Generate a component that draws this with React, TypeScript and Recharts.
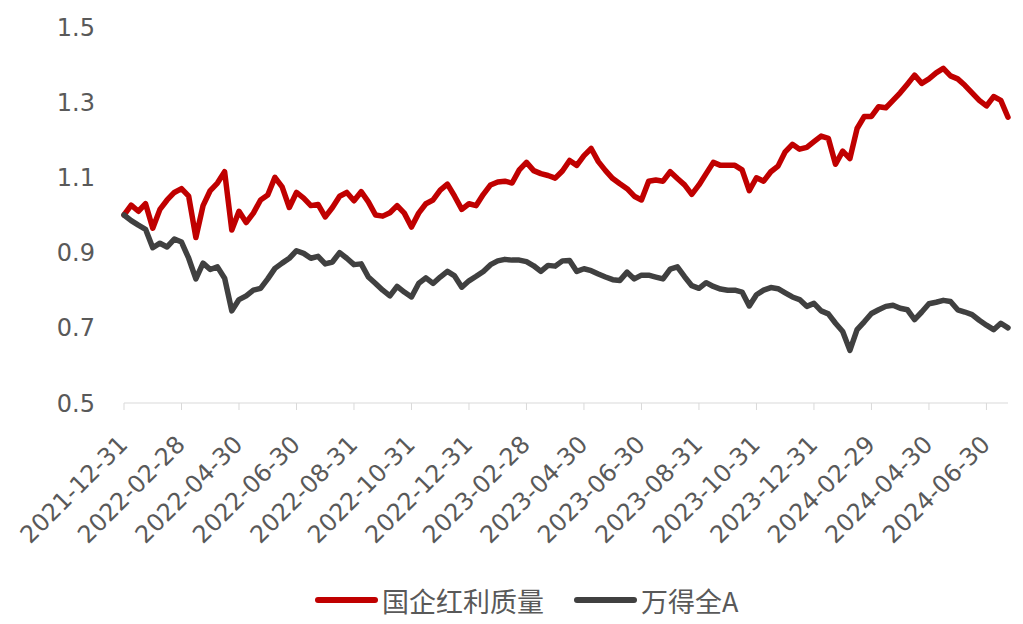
import { LineChart, Line, XAxis, YAxis, Legend } from 'recharts'

// 国企红利质量 vs 万得全A, normalised to 1 at 2021-12-31, one point per ~quarter month
const redValues = [
  1.0, 1.026, 1.01, 1.03, 0.965, 1.015, 1.04, 1.06, 1.07, 1.05, 0.94, 1.025, 1.065, 1.085, 1.115, 0.96,
  1.01, 0.98, 1.005, 1.04, 1.053, 1.1, 1.075, 1.02, 1.06, 1.045, 1.025, 1.028, 0.995, 1.02, 1.05, 1.06,
  1.038, 1.062, 1.035, 1.0, 0.997, 1.006, 1.025, 1.005, 0.968, 1.005, 1.03, 1.04, 1.066, 1.082, 1.05, 1.015,
  1.03, 1.025, 1.055, 1.08, 1.088, 1.09, 1.085, 1.12, 1.14, 1.118, 1.11, 1.105, 1.098, 1.117, 1.145, 1.132,
  1.158, 1.177, 1.142, 1.118, 1.097, 1.083, 1.07, 1.05, 1.04, 1.09, 1.093, 1.09, 1.115, 1.097, 1.08, 1.055,
  1.08, 1.11, 1.14, 1.132, 1.132, 1.132, 1.12, 1.065, 1.099, 1.09, 1.115, 1.13, 1.168, 1.188, 1.175, 1.18,
  1.195, 1.21, 1.204, 1.135, 1.17, 1.15, 1.23, 1.262, 1.262, 1.288, 1.285, 1.305, 1.325, 1.348, 1.372, 1.35,
  1.362, 1.378, 1.39, 1.37, 1.362, 1.345, 1.325, 1.305, 1.29, 1.315, 1.305, 1.26,
]

const grayValues = [
  1.0, 0.985, 0.973, 0.962, 0.913, 0.925, 0.915, 0.936, 0.928, 0.885, 0.83, 0.872, 0.855, 0.862, 0.832, 0.745,
  0.775, 0.785, 0.8, 0.805, 0.83, 0.858, 0.872, 0.885, 0.905, 0.898, 0.885, 0.89, 0.87, 0.875, 0.9, 0.885,
  0.868, 0.87, 0.835, 0.818, 0.8, 0.785, 0.81, 0.795, 0.782, 0.818, 0.833, 0.818, 0.835, 0.85, 0.838, 0.808,
  0.825, 0.837, 0.85, 0.868, 0.878, 0.882, 0.88, 0.88, 0.876, 0.865, 0.85, 0.866, 0.864, 0.878, 0.879, 0.85,
  0.857, 0.852, 0.843, 0.835, 0.828, 0.826, 0.848, 0.83, 0.84, 0.84, 0.835, 0.83, 0.856, 0.862, 0.836, 0.812,
  0.805, 0.82, 0.81, 0.803, 0.8, 0.8, 0.795, 0.758, 0.788, 0.8, 0.807, 0.804, 0.793, 0.782, 0.775, 0.757,
  0.765, 0.745, 0.737, 0.712, 0.69, 0.64, 0.695, 0.716, 0.738, 0.748, 0.757, 0.76, 0.752, 0.748, 0.722, 0.742,
  0.764, 0.768, 0.773, 0.77, 0.748, 0.742, 0.735, 0.72, 0.707, 0.695, 0.712, 0.7,
]

const tickLabels = [
  '2021-12-31', '2022-02-28', '2022-04-30', '2022-06-30', '2022-08-31', '2022-10-31',
  '2022-12-31', '2023-02-28', '2023-04-30', '2023-06-30', '2023-08-31', '2023-10-31',
  '2023-12-31', '2024-02-29', '2024-04-30', '2024-06-30',
]
const tickIndex = [0, 8, 16, 24, 32, 40, 48, 56, 64, 72, 80, 88, 96, 104, 112, 120]

const yTicks = [0.5, 0.7, 0.9, 1.1, 1.3, 1.5]

const seriesNames = ['国企红利质量', '万得全A']
const colors = ['#C00000', '#404040']

const data = redValues.map((v, i) => ({ i, red: v, gray: grayValues[i] }))

const font = "'DejaVu Sans', 'Noto Sans CJK SC', sans-serif"
const labelColor = '#595959'

const DateTick = (props: any) => {
  const { x, y, payload } = props
  const label = tickLabels[tickIndex.indexOf(payload.value)]
  const ax = x + 5
  const ay = y + 34
  return (
    <text
      x={ax}
      y={ay}
      textAnchor="end"
      fill={labelColor}
      fontSize={24}
      fontFamily={font}
      transform={`rotate(-45, ${ax}, ${ay})`}
    >
      {label}
    </text>
  )
}

const LegendContent = () => (
  <div
    style={{
      display: 'flex',
      alignItems: 'center',
      height: 40,
      paddingLeft: 315,
      fontFamily: "'Noto Sans CJK SC', sans-serif",
      fontSize: 27,
      color: labelColor,
    }}
  >
    {seriesNames.map((name, idx) => (
      <div key={name} style={{ display: 'flex', alignItems: 'center', marginRight: 30 }}>
        <span
          style={{
            display: 'inline-block',
            width: 63,
            height: 6,
            borderRadius: 3,
            background: colors[idx],
            marginRight: 4,
          }}
        />
        <span>{name}</span>
      </div>
    ))}
  </div>
)

export default function App() {
  return (
    <div style={{ position: 'absolute', left: 0, top: 0, background: '#fff' }}>
      <LineChart
        width={1023}
        height={624}
        data={data}
        margin={{ top: 27, right: 15, left: 0, bottom: 4 }}
      >
        <XAxis
          dataKey="i"
          type="number"
          domain={[0, 123]}
          ticks={tickIndex}
          interval={0}
          height={177}
          stroke="#D9D9D9"
          tickSize={7}
          tickMargin={2}
          tick={<DateTick />}
        />
        <YAxis
          type="number"
          domain={[0.5, 1.5]}
          ticks={yTicks}
          width={124}
          axisLine={false}
          tickLine={false}
          tickSize={6}
          tickMargin={23}
          tickFormatter={(v: number) => v.toFixed(1)}
          tick={{ fill: labelColor, fontSize: 24, fontFamily: font }}
        />
        <Legend verticalAlign="bottom" height={40} content={<LegendContent />} wrapperStyle={{ left: 0, width: 1023 }} />
        <Line
          dataKey="red"
          name={seriesNames[0]}
          stroke={colors[0]}
          strokeWidth={5.5}
          dot={false}
          strokeLinejoin="round"
          strokeLinecap="round"
          isAnimationActive={false}
        />
        <Line
          dataKey="gray"
          name={seriesNames[1]}
          stroke={colors[1]}
          strokeWidth={5.5}
          dot={false}
          strokeLinejoin="round"
          strokeLinecap="round"
          isAnimationActive={false}
        />
      </LineChart>
    </div>
  )
}
